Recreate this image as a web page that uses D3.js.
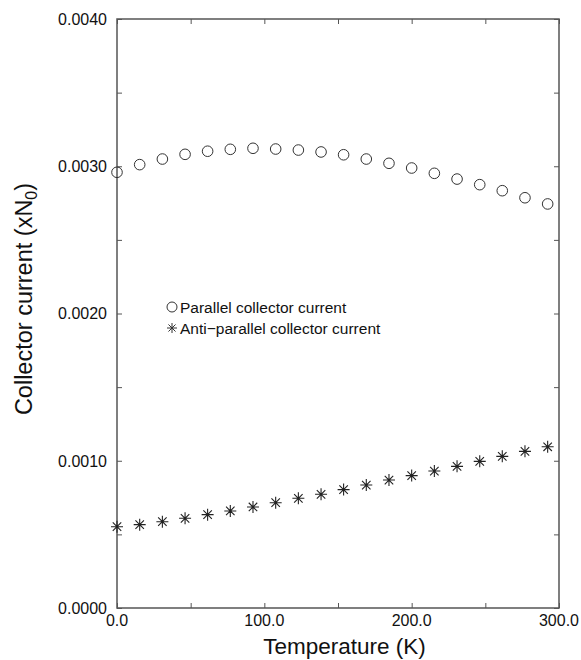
<!DOCTYPE html>
<html>
<head>
    <title>Collector current vs temperature</title>
    <script src="https://d3js.org/d3.v7.min.js"></script>
    <style>
        body { margin: 0; background: #fff; }
        text { font-family: "Liberation Sans", Arial, sans-serif; fill: #111; }
    </style>
</head>
<body>
    <svg width="581" height="660"></svg>
    <script>
        // Temperatures (K) of the measured points
        var temperature = [0, 15.4, 30.8, 46.2, 61.5, 76.9, 92.3, 107.7, 123.1, 138.5,
                           153.8, 169.2, 184.6, 200.0, 215.4, 230.8, 246.2, 261.5, 276.9, 292.3];

        // Parallel collector current (xN0)
        var parallel = [0.002959, 0.003011, 0.003049, 0.003081, 0.003102, 0.003115, 0.003122,
                        0.003117, 0.003110, 0.003097, 0.003078, 0.003049, 0.003020, 0.002988,
                        0.002952, 0.002913, 0.002875, 0.002834, 0.002786, 0.002744];

        // Anti-parallel collector current (xN0)
        var antiParallel = [0.000552, 0.000566, 0.000586, 0.000609, 0.000634, 0.000659, 0.000686,
                            0.000715, 0.000745, 0.000772, 0.000804, 0.000835, 0.000869, 0.000899,
                            0.000930, 0.000962, 0.000996, 0.001030, 0.001064, 0.001095];

        var xTicks = [0, 100, 200, 300];
        var yTicks = [0, 0.001, 0.002, 0.003, 0.004];

        var plotLeft = 117, plotRight = 559, plotTop = 19, plotBottom = 608;

        var x = d3.scaleLinear().domain([0, 300]).range([plotLeft, plotRight]);
        var y = d3.scaleLinear().domain([0, 0.004]).range([plotBottom, plotTop]);

        var svg = d3.select("svg");
        var frameColor = "#555";

        // Frame
        svg.append("rect")
            .attr("x", plotLeft).attr("y", plotTop)
            .attr("width", plotRight - plotLeft).attr("height", plotBottom - plotTop)
            .attr("fill", "none")
            .attr("stroke", frameColor)
            .attr("stroke-width", 1.5);

        // Inward ticks on all four sides (major + minor)
        var xt = d3.range(0, 301, 50);
        var yt = d3.range(0, 0.00401, 0.0005);

        function tidy(g) {
            g.select(".domain").remove();
            g.selectAll("line").attr("stroke", frameColor);
        }

        svg.append("g")
            .attr("transform", "translate(0," + plotBottom + ")")
            .call(d3.axisBottom(x).tickValues(xt).tickSize(-5).tickFormat(""))
            .call(tidy);

        svg.append("g")
            .attr("transform", "translate(0," + plotTop + ")")
            .call(d3.axisTop(x).tickValues(xt).tickSize(-5).tickFormat(""))
            .call(tidy);

        svg.append("g")
            .attr("transform", "translate(" + plotLeft + ",0)")
            .call(d3.axisLeft(y).tickValues(yt).tickSize(-5).tickFormat(""))
            .call(tidy);

        svg.append("g")
            .attr("transform", "translate(" + plotRight + ",0)")
            .call(d3.axisRight(y).tickValues(yt).tickSize(-5).tickFormat(""))
            .call(tidy);

        // Tick labels
        svg.append("g").selectAll("text")
            .data(xTicks)
            .enter()
            .append("text")
            .attr("x", function(d) { return x(d); })
            .attr("y", plotBottom + 18)
            .attr("text-anchor", "middle")
            .attr("font-size", 16)
            .text(function(d) { return d3.format(".1f")(d); });

        svg.append("g").selectAll("text")
            .data(yTicks)
            .enter()
            .append("text")
            .attr("x", plotLeft - 10)
            .attr("y", function(d) { return y(d); })
            .attr("dy", "0.36em")
            .attr("text-anchor", "end")
            .attr("font-size", 16)
            .text(function(d) { return d3.format(".4f")(d); });

        // Axis titles
        svg.append("text")
            .attr("x", (plotLeft + plotRight) / 2 + 6.5)
            .attr("y", 654)
            .attr("text-anchor", "middle")
            .attr("font-size", 22.5)
            .text("Temperature (K)");

        var yl = svg.append("text")
            .attr("transform", "translate(32,299) rotate(-90)")
            .attr("text-anchor", "middle")
            .attr("font-size", 23.5);
        yl.append("tspan").text("Collector current (xN");
        yl.append("tspan").attr("font-size", 16).attr("dy", 5).text("0");
        yl.append("tspan").attr("dy", -5).text(")");

        // Star marker path (8 arms)
        function star(cx, cy, r) {
            var d = "";
            for (var k = 0; k < 4; k++) {
                var a = k * Math.PI / 4;
                var dx = r * Math.cos(a), dy = r * Math.sin(a);
                d += "M" + (cx - dx) + "," + (cy - dy) + "L" + (cx + dx) + "," + (cy + dy);
            }
            return d;
        }

        // Parallel: open circles
        svg.append("g").selectAll("circle")
            .data(parallel)
            .enter()
            .append("circle")
            .attr("cx", function(d, i) { return x(temperature[i]); })
            .attr("cy", function(d) { return y(d); })
            .attr("r", 5.3)
            .attr("fill", "none")
            .attr("stroke", "#333")
            .attr("stroke-width", 1);

        // Anti-parallel: stars
        svg.append("g").selectAll("path")
            .data(antiParallel)
            .enter()
            .append("path")
            .attr("d", function(d, i) { return star(x(temperature[i]), y(d), 6); })
            .attr("stroke", "#222")
            .attr("stroke-width", 1.1);

        // Legend
        svg.append("circle")
            .attr("cx", 172).attr("cy", 307).attr("r", 5)
            .attr("fill", "none").attr("stroke", "#333").attr("stroke-width", 1);
        svg.append("text")
            .attr("x", 180).attr("y", 307).attr("dy", "0.36em")
            .attr("font-size", 15.5)
            .text("Parallel collector current");
        svg.append("path")
            .attr("d", star(172, 328, 5))
            .attr("stroke", "#333").attr("stroke-width", 1);
        svg.append("text")
            .attr("x", 180).attr("y", 328).attr("dy", "0.36em")
            .attr("font-size", 15.5)
            .text("Anti\u2212parallel collector current");
    </script>
</body>
</html>
